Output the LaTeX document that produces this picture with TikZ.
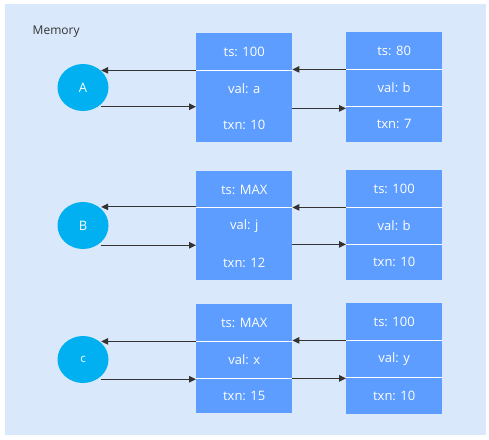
\documentclass[tikz,border=0pt]{standalone}
\usepackage{fontspec}
\setmainfont{Open Sans}
\usetikzlibrary{arrows.meta,shapes.geometric}
\definecolor{bgblue}{HTML}{DAE8FC}
\definecolor{cellblue}{HTML}{5C9DFF}
\definecolor{circblue}{HTML}{00B0F0}
\definecolor{arrgray}{HTML}{333333}
\tikzset{
  cell/.style={fill=cellblue, text=white, minimum width=96pt, inner sep=0pt, anchor=north west, font=\fontsize{13}{15}\selectfont},
  divider/.style={draw=white, line width=1pt},
  keynode/.style={ellipse, fill=circblue, text=white, minimum width=51pt, minimum height=47pt, inner sep=0pt, font=\fontsize{13}{15}\selectfont},
  arr/.style={draw=arrgray, line width=1.1pt, -{Triangle[length=7pt,width=6.5pt]}},
}
\begin{document}
\begin{tikzpicture}[x=1pt,y=-1pt]
\useasboundingbox (0,0) rectangle (489,439);
\fill[bgblue] (5,4) rectangle (486,435);
\node[anchor=west, text=arrgray, font=\fontsize{12}{14}\selectfont, inner sep=0pt] (mem) at (32.5,32) {Memory};

% ---------- Row A ----------
\node[keynode] (kA) at (83,87.5) {A};
\node[cell, minimum height=37pt] (a1ts) at (196,33) {ts: 100};
\node[cell, minimum height=37pt] (a1val) at (196,70) {val: a};
\node[cell, minimum height=35pt] (a1txn) at (196,107) {txn: 10};
\node[cell, minimum height=37pt] (a2ts) at (346,32) {ts: 80};
\node[cell, minimum height=37pt] (a2val) at (346,69) {val: b};
\node[cell, minimum height=36pt] (a2txn) at (346,106) {txn: 7};
\draw[divider] (a1ts.south west) -- (a1ts.south east);
\draw[divider] (a2ts.south west) -- (a2ts.south east);
\draw[divider] (a2val.south west) -- (a2val.south east);
\draw[arr] (a1ts.south west) -- (a1ts.south west -| kA.north east);
\draw[arr] ([yshift=-2.5pt]kA.south east) -- ([yshift=-2.5pt]kA.south east -| a1val.west);
\draw[arr] (a2ts.south west) -- (a2ts.south west -| a1ts.east);
\draw[arr] ([yshift=-1pt]a1val.south east) -- ([yshift=-1pt]a1val.south east -| a2val.west);

% ---------- Row B ----------
\node[keynode] (kB) at (83,225.5) {B};
\node[cell, minimum height=36.5pt] (b1ts) at (196,171) {ts: MAX};
\node[cell, minimum height=37pt] (b1val) at (196,207.5) {val: j};
\node[cell, minimum height=35.5pt] (b1txn) at (196,244.5) {txn: 12};
\node[cell, minimum height=37pt] (b2ts) at (346,170) {ts: 100};
\node[cell, minimum height=37pt] (b2val) at (346,207) {val: b};
\node[cell, minimum height=36pt] (b2txn) at (346,244) {txn: 10};
\draw[divider] (b1ts.south west) -- (b1ts.south east);
\draw[divider] (b2ts.south west) -- (b2ts.south east);
\draw[divider] (b2val.south west) -- (b2val.south east);
\draw[arr] ([yshift=1pt]b1ts.south west) -- ([yshift=1pt]b1ts.south west -| kB.north east);
\draw[arr] ([yshift=-3pt]kB.south east) -- ([yshift=-3pt]kB.south east -| b1val.west);
\draw[arr] (b2ts.south west) -- (b2ts.south west -| b1ts.east);
\draw[arr] (b2val.south west -| b1val.east) -- (b2val.south west);

% ---------- Row C ----------
\node[keynode, font=\fontsize{11.5}{13}\selectfont] (kC) at (83,359.5) {c};
\node[cell, minimum height=37pt] (c1ts) at (196,304) {ts: MAX};
\node[cell, minimum height=37pt] (c1val) at (196,341) {val: x};
\node[cell, minimum height=35pt] (c1txn) at (196,378) {txn: 15};
\node[cell, minimum height=37pt] (c2ts) at (346,303) {ts: 100};
\node[cell, minimum height=37pt] (c2val) at (346,340) {val: y};
\node[cell, minimum height=36.5pt] (c2txn) at (346,377) {txn: 10};
\draw[divider] (c1ts.south west) -- (c1ts.south east);
\draw[divider] (c1val.south west) -- (c1val.south east);
\draw[divider] (c2ts.south west) -- (c2ts.south east);
\draw[divider] (c2val.south west) -- (c2val.south east);
\draw[arr] (c1ts.south west) -- (c1ts.south west -| kC.north east);
\draw[arr] ([yshift=-3pt]kC.south east) -- ([yshift=-3pt]kC.south east -| c1val.west);
\draw[arr] (c2ts.south west) -- (c2ts.south west -| c1ts.east);
\draw[arr] (c1val.south east) -- (c1val.south east -| c2val.west);
\end{tikzpicture}
\end{document}
